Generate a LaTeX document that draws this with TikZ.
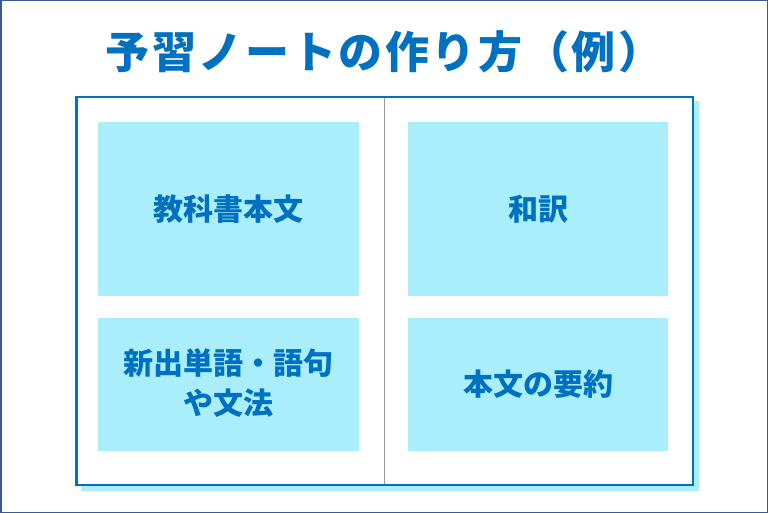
\documentclass[tikz,border=0pt]{standalone}
\usepackage{fontspec}
\setmainfont{Noto Sans CJK JP}
\newfontfamily\titlefont{Noto Sans CJK JP}[LetterSpace=6]
\definecolor{frameblue}{HTML}{3A5A96}
\definecolor{noteblue}{HTML}{0070C0}
\definecolor{cyanfill}{HTML}{AAEEFC}
\definecolor{midgray}{HTML}{999999}
\tikzset{
  cell/.style={fill=cyanfill, draw=none},
  celltext/.style={text=noteblue, font=\fontsize{30}{40}\selectfont\bfseries, align=center, inner sep=0pt}
}
\begin{document}
\begin{tikzpicture}[x=1pt,y=-1pt]
\useasboundingbox (0,0) rectangle (768,513);
% outer frame
\draw[frameblue, line width=1.5pt] (0.75,0.75) rectangle (767.25,512.25);
% title
\node[text=noteblue, font=\titlefont\fontsize{44}{50}\selectfont\bfseries, inner sep=0pt] (title) at (384,52) {予習ノートの作り方（例）};
% shadow
\fill[cyanfill] (81,101) rectangle (699,491);
% notebook
\draw[noteblue, fill=white, line width=2.5pt] (76.5,97.2) rectangle (692.8,484.8);
\coordinate (ctop) at (384.5,98.5);
\coordinate (cbot) at (384.5,483.5);
\draw[midgray, line width=1pt] (ctop) -- (cbot);
% cells
\fill[cell] (98,122) rectangle (359,296);
\fill[cell] (408,122) rectangle (668,296);
\fill[cell] (98,318) rectangle (359,451);
\fill[cell] (408,318) rectangle (668,451);
\node[celltext] (t1) at (228.5,209) {教科書本文};
\node[celltext] (t2) at (538,209) {和訳};
\node[celltext] (t3) at (228.5,383) {新出単語・語句\\や文法};
\node[celltext] (t4) at (538,384.5) {本文の要約};
\end{tikzpicture}
\end{document}
